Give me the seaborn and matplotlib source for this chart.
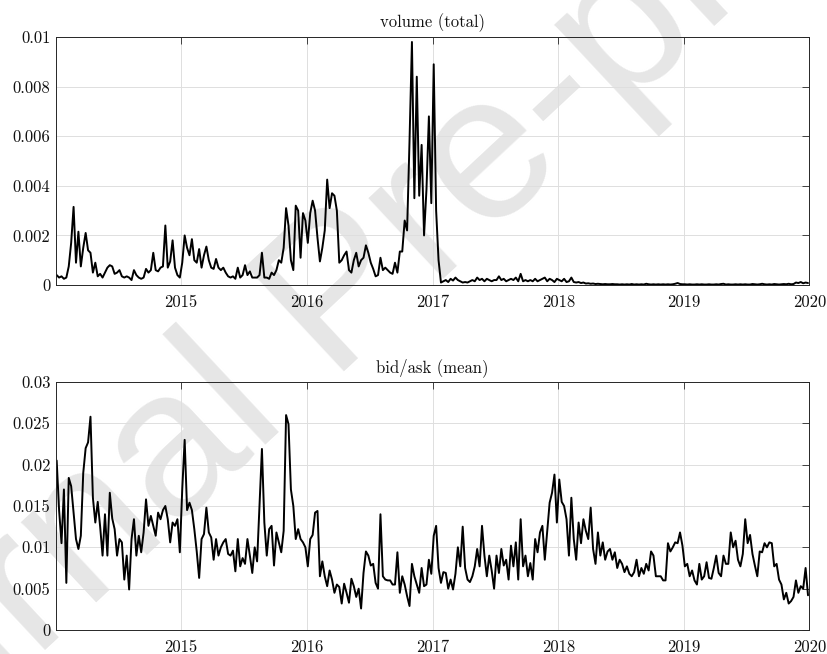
import numpy as np, pandas as pd
import matplotlib
matplotlib.use("Agg")
import matplotlib.pyplot as plt
import matplotlib.dates as mdates
import seaborn as sns
from matplotlib.ticker import FuncFormatter

# ---------------- DATA (weekly values, units of 1e-3) ----------------
years = [2014, 2015, 2016, 2017, 2018, 2019]

vol_2014 = [0.4, 0.3, 0.35, 0.25, 0.3, 0.75, 1.7, 3.15, 0.9, 2.15, 0.75, 1.5, 2.1, 1.4, 1.3, 0.5, 0.9, 0.35,
            0.45, 0.3, 0.5, 0.7, 0.8, 0.75, 0.45, 0.5, 0.6, 0.35, 0.3, 0.35, 0.3, 0.2, 0.6, 0.4, 0.3, 0.25,
            0.3, 0.65, 0.5, 0.6, 1.3, 0.6, 0.55, 0.7, 0.75, 2.4, 0.7, 0.95, 1.8, 0.7, 0.4, 0.3]
vol_2015 = [0.9, 2.0, 1.5, 1.2, 1.85, 1.0, 0.9, 1.45, 0.7, 1.2, 1.55, 1.0, 0.7, 0.65, 1.05, 0.7, 0.6, 0.7,
            0.5, 0.35, 0.3, 0.35, 0.25, 0.7, 0.3, 0.4, 0.8, 0.4, 0.55, 0.3, 0.3, 0.3, 0.4, 1.3, 0.3, 0.3,
            0.25, 0.5, 0.4, 0.6, 1.0, 0.9, 1.5, 3.1, 2.4, 1.0, 0.6, 3.2, 3.0, 1.1, 2.9, 2.6]
vol_2016 = [1.7, 2.9, 3.4, 3.0, 1.9, 0.95, 1.5, 2.2, 4.25, 3.1, 3.7, 3.6, 3.0, 0.9, 1.0, 1.2, 1.35, 0.6,
            0.5, 1.0, 1.3, 0.75, 1.0, 1.1, 1.6, 1.3, 0.9, 0.65, 0.35, 0.4, 1.1, 0.6, 0.7, 0.6, 0.5, 0.45,
            0.9, 0.5, 1.35, 1.35, 2.6, 2.2, 5.8, 9.8, 3.5, 8.4, 3.6, 5.65, 2.0, 3.85, 6.8, 3.3]
vol_2017 = [8.9, 3.0, 1.0, 0.1, 0.15, 0.2, 0.12, 0.25, 0.18, 0.3, 0.2, 0.15, 0.1, 0.12, 0.1, 0.15, 0.2, 0.15,
            0.3, 0.2, 0.25, 0.15, 0.25, 0.2, 0.15, 0.2, 0.2, 0.35, 0.2, 0.25, 0.15, 0.2, 0.25, 0.2, 0.3, 0.15,
            0.45, 0.15, 0.2, 0.15, 0.2, 0.15, 0.25, 0.15, 0.2, 0.25, 0.3, 0.15, 0.25, 0.2, 0.12, 0.25]
vol_2018 = [0.2, 0.15, 0.25, 0.12, 0.15, 0.3, 0.12, 0.1, 0.12, 0.08, 0.1, 0.06, 0.07, 0.05, 0.06, 0.04, 0.05,
            0.04, 0.03, 0.04, 0.03, 0.03, 0.04, 0.03, 0.03, 0.02, 0.03, 0.02, 0.03, 0.02, 0.04, 0.02, 0.03,
            0.02, 0.03, 0.02, 0.05, 0.03, 0.02, 0.03, 0.02, 0.03, 0.02, 0.03, 0.02, 0.03, 0.02, 0.03, 0.05,
            0.08, 0.04, 0.03]
vol_2019 = [0.03, 0.02, 0.03, 0.02, 0.02, 0.03, 0.02, 0.03, 0.02, 0.02, 0.03, 0.02, 0.02, 0.03, 0.02, 0.04,
            0.05, 0.02, 0.03, 0.02, 0.02, 0.03, 0.02, 0.03, 0.02, 0.03, 0.02, 0.02, 0.04, 0.03, 0.02, 0.03,
            0.05, 0.03, 0.02, 0.03, 0.02, 0.04, 0.03, 0.02, 0.03, 0.04, 0.03, 0.05, 0.03, 0.04, 0.1, 0.08,
            0.12, 0.07, 0.1, 0.08]

ba_2014 = [20.5, 14.5, 10.5, 17, 5.7, 18.4, 17.4, 14.2, 11, 9.8, 11.4, 19, 22, 22.7, 25.8, 16, 13, 15.5,
           12.5, 9, 14, 9, 16.6, 13.5, 12.2, 9, 11, 10.6, 6.1, 9, 4.9, 11, 13.4, 9, 11.4, 9.4, 11.8, 15.8,
           12.6, 13.8, 12.6, 11.4, 14.2, 13.4, 14.5, 15, 13.4, 10.6, 13, 12.6, 13.4, 9.4]
ba_2015 = [17, 23, 14.5, 15.4, 14.5, 12.2, 9.5, 6.3, 11, 11.6, 14.8, 11.8, 11.2, 8.5, 11, 9, 10, 10.6, 11,
           9.2, 9, 9.6, 7.1, 11, 7.7, 8.7, 8, 11, 9, 6.9, 10, 8.3, 15, 21.9, 13, 9, 12.2, 12.6, 7.8, 11.8,
           10.6, 9.4, 12, 26, 24.9, 17, 15, 11, 12.2, 11, 10.6, 10]
ba_2016 = [7.7, 11, 11.5, 14.2, 14.4, 6.5, 8.3, 6.5, 5.3, 7.2, 6.1, 4.5, 5.5, 5.2, 3.2, 5.6, 4.5, 3.3, 6.2,
           5.3, 4, 5, 2.6, 6.9, 9.5, 9, 7.8, 8, 5.7, 5, 14, 6.5, 6.1, 6, 6, 5.5, 5.5, 9.4, 4.5, 6.5, 5.5,
           4.1, 2.9, 8, 6.5, 5.5, 4.5, 7.5, 5.3, 5.5, 8.5, 6.8]
ba_2017 = [11.4, 12.6, 7.5, 5.7, 7, 6.9, 5, 6.1, 4.9, 6.8, 10, 7.7, 12.5, 7.5, 6.1, 5.8, 6.5, 7.7, 9.8, 7.7,
           12.6, 9, 6.5, 9, 7.2, 5, 9, 6.9, 9.8, 7.8, 8.5, 6.1, 10.2, 7.7, 10.6, 6.1, 13.4, 7.7, 9, 6.5,
           8.1, 6.1, 11, 9.4, 11.8, 12.6, 8.5, 12, 15.4, 16.6, 18.8, 13]
ba_2018 = [18.2, 15.5, 15, 13.4, 9, 16, 11, 8.5, 13, 10.5, 13.4, 12, 11, 14.8, 9.8, 8, 11.8, 9, 10.6, 8.5,
           9.5, 9.8, 8.5, 9.4, 7.5, 8.5, 8, 7, 7.7, 6.8, 6.5, 7, 8.5, 6.5, 7.5, 6.8, 8, 7.2, 9.5, 9, 6.5,
           6.5, 6.5, 6, 6, 10.5, 9.5, 10, 10.6, 10.5, 11.8, 10.2]
ba_2019 = [7.7, 8, 6.5, 7.2, 6, 5.5, 8, 6.1, 6.5, 8.2, 6.3, 6.2, 7.5, 9, 6.9, 6.5, 9, 8, 8, 11.8, 10, 10.8,
           8.5, 7.7, 9.2, 13.4, 10.5, 11.5, 9.2, 7.8, 6.5, 9.5, 9.4, 10.5, 10, 10.6, 10.5, 7.7, 8, 6.1, 5.5,
           3.7, 4.5, 3.2, 3.5, 4, 6, 4.5, 5.3, 5, 7.5, 4.2]

vol_chunks = [vol_2014, vol_2015, vol_2016, vol_2017, vol_2018, vol_2019]
ba_chunks = [ba_2014, ba_2015, ba_2016, ba_2017, ba_2018, ba_2019]

vol_ticks = [0, 0.002, 0.004, 0.006, 0.008, 0.01]
ba_ticks = [0, 0.005, 0.01, 0.015, 0.02, 0.025, 0.03]


def to_frame(chunks):
    frames = []
    for year, vals in zip(years, chunks):
        d = pd.date_range(f"{year}-01-04", f"{year}-12-28", periods=len(vals))
        frames.append(pd.DataFrame({"date": d, "value": np.array(vals) * 1e-3}))
    return pd.concat(frames, ignore_index=True)


df_vol = to_frame(vol_chunks)
df_ba = to_frame(ba_chunks)

# ---------------- STYLE ----------------
sns.set_theme(style="white")
plt.rcParams["font.family"] = ["cmr10", "DejaVu Serif"]
plt.rcParams["mathtext.fontset"] = "cm"
plt.rcParams["axes.formatter.use_mathtext"] = True

fig = plt.figure(figsize=(8.27, 6.54), dpi=100)
# watermark of the source page
fig.text(0.4136, 0.541, "Journal Pre-proof", rotation=43, fontsize=150, color="#e6e6e6",
         ha="center", va="center", family="Liberation Sans", zorder=-1)

ax1 = fig.add_axes([0.0677, 0.5642, 0.911, 0.3792])
ax2 = fig.add_axes([0.0677, 0.0367, 0.911, 0.3792])

panels = [(ax1, df_vol, "volume (total)", vol_ticks), (ax2, df_ba, "bid/ask (mean)", ba_ticks)]

for ax, df, title, yt in panels:
    ax.set_facecolor("none")
    sns.lineplot(data=df, x="date", y="value", ax=ax, color="black", lw=1.4)
    ax.set_xlim(pd.Timestamp("2014-01-02"), pd.Timestamp("2020-01-01"))
    ax.set_ylim(yt[0], yt[-1])
    ax.set_yticks(yt)
    ax.yaxis.set_major_formatter(FuncFormatter(lambda v, p: f"{v:g}"))
    ax.xaxis.set_major_locator(mdates.YearLocator())
    ax.xaxis.set_major_formatter(mdates.DateFormatter("%Y"))
    ax.set_xlabel("")
    ax.set_ylabel("")
    ax.set_title(title, fontsize=12, pad=7, color="#111111")
    ax.grid(True, color="#dedede", lw=0.7)
    ax.set_axisbelow(True)
    ax.tick_params(direction="in", length=5, width=0.6, top=True, right=True,
                   labelsize=12, color="#262626", labelcolor="#111111")
    ax.tick_params(axis="x", pad=7)
    ax.tick_params(axis="y", pad=4)
    for s in ax.spines.values():
        s.set_visible(True)
        s.set_color("#262626")
        s.set_linewidth(0.7)

fig.savefig("out.png", dpi=100, facecolor="white")
